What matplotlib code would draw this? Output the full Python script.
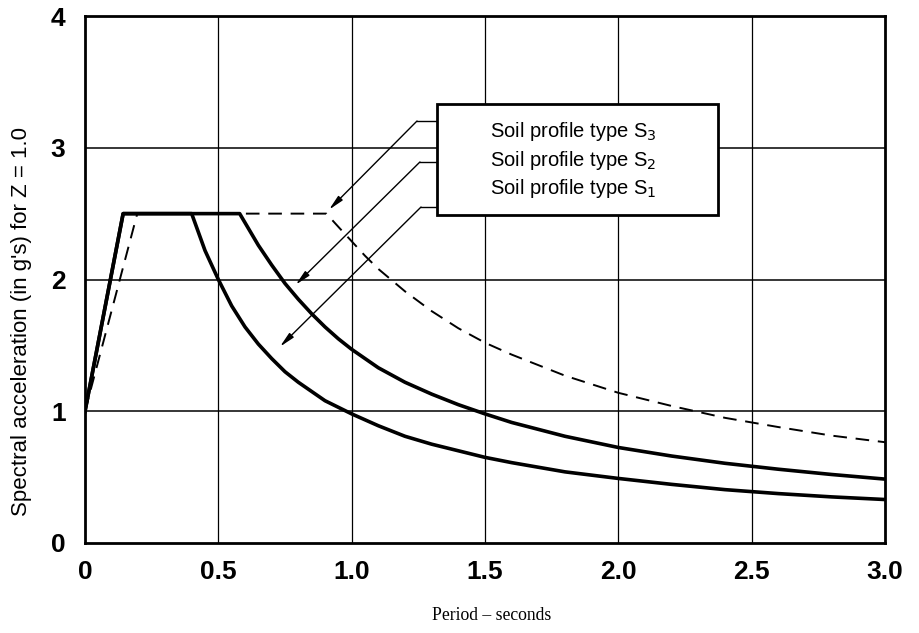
import matplotlib
matplotlib.use("Agg")
import matplotlib.pyplot as plt
from matplotlib.patches import Rectangle

# ---- data ----
s1_T = [0.0, 0.143, 0.40, 0.45, 0.5, 0.55, 0.6, 0.65, 0.7, 0.75, 0.8, 0.85, 0.9, 1.0, 1.1, 1.2,
        1.3, 1.4, 1.5, 1.6, 1.8, 2.0, 2.2, 2.4, 2.6, 2.8, 3.0]
s1_A = [1.0, 2.5, 2.5, 2.22, 2.0, 1.80, 1.64, 1.51, 1.40, 1.30, 1.22, 1.15, 1.08, 0.98, 0.89, 0.81,
        0.75, 0.70, 0.65, 0.61, 0.54, 0.49, 0.445, 0.405, 0.375, 0.35, 0.33]

s2_T = [0.0, 0.143, 0.58, 0.65, 0.7, 0.75, 0.8, 0.85, 0.9, 0.95, 1.0, 1.1, 1.2, 1.3, 1.4, 1.5,
        1.6, 1.8, 2.0, 2.2, 2.4, 2.6, 2.8, 3.0]
s2_A = [1.0, 2.5, 2.5, 2.26, 2.11, 1.97, 1.85, 1.74, 1.64, 1.55, 1.47, 1.33, 1.22, 1.13, 1.05, 0.98,
        0.915, 0.81, 0.725, 0.66, 0.605, 0.56, 0.52, 0.485]

s3_T = [0.0, 0.196, 0.905, 0.95, 1.0, 1.05, 1.1, 1.2, 1.3, 1.4, 1.5, 1.6, 1.8, 2.0, 2.2, 2.4,
        2.6, 2.8, 3.0]
s3_A = [1.0, 2.5, 2.5, 2.4, 2.29, 2.18, 2.08, 1.91, 1.76, 1.63, 1.52, 1.43, 1.27, 1.14, 1.04, 0.95,
        0.88, 0.815, 0.765]

x_ticks = [0, 0.5, 1.0, 1.5, 2.0, 2.5, 3.0]
x_tick_labels = ["0", "0.5", "1.0", "1.5", "2.0", "2.5", "3.0"]
y_ticks = [0, 1, 2, 3, 4]
y_tick_labels = ["0", "1", "2", "3", "4"]

legend_labels = ["Soil profile type S$_3$", "Soil profile type S$_2$", "Soil profile type S$_1$"]

fig = plt.figure(figsize=(9.19, 6.33), dpi=100)
ax = fig.add_axes([85/919, 1 - 543/633, 800/919, 527/633])
ax.set_xlim(0, 3.0)
ax.set_ylim(0, 4)

for xv in x_ticks[1:-1]:
    ax.axvline(xv, color="black", lw=0.9, zorder=1)
for yv in y_ticks[1:-1]:
    ax.axhline(yv, color="black", lw=1.1, zorder=1)

ax.plot(s1_T, s1_A, color="black", lw=2.6, solid_joinstyle="round", zorder=3)
ax.plot(s2_T, s2_A, color="black", lw=2.6, solid_joinstyle="round", zorder=3)
ax.plot(s3_T, s3_A, color="black", lw=1.4, dashes=(7, 4.5), zorder=3)

for sp in ax.spines.values():
    sp.set_linewidth(2.0)

tick_font = dict(family=["Liberation Sans", "DejaVu Sans"], weight="bold", size=19)
ax.set_xticks(x_ticks)
ax.set_xticklabels(x_tick_labels, **tick_font)
ax.set_yticks(y_ticks)
ax.set_yticklabels(y_tick_labels, **tick_font)
ax.tick_params(length=0, pad=12)
ax.tick_params(axis="y", pad=14)

# legend box
box = Rectangle((1.32, 2.49), 1.054, 0.842, facecolor="white", edgecolor="black",
                lw=2.0, zorder=5)
ax.add_patch(box)
text_y = [3.127, 2.907, 2.687]
for lab, ty in zip(legend_labels, text_y):
    ax.text(1.52, ty, lab, fontsize=14.5, family=["Liberation Sans", "DejaVu Sans"],
            va="center", ha="left", zorder=6)

# leader lines with arrows
elbows = [(1.245, 3.203), (1.256, 2.892), (1.26, 2.55)]
tips = [(0.915, 2.53), (0.79, 1.96), (0.731, 1.49)]
for (ex, ey), (tx, ty) in zip(elbows, tips):
    ax.plot([1.32, ex], [ey, ey], color="black", lw=1.0, zorder=4)
    ax.annotate("", xy=(tx, ty), xytext=(ex, ey),
                arrowprops=dict(arrowstyle="-|>,head_length=0.9,head_width=0.18",
                                color="black", lw=1.0, shrinkA=0, shrinkB=0),
                zorder=4)

fig.text(22/919, 1 - 322/633, "Spectral acceleration (in g's) for Z = 1.0",
         rotation=90, ha="center", va="center", fontsize=16,
         family=["Liberation Sans", "DejaVu Sans"])
fig.text(492/919, 1 - 616/633, "Period – seconds", ha="center", va="center",
         fontsize=12.7, family=["Liberation Serif", "DejaVu Serif"])

fig.savefig("out.png", dpi=100)
